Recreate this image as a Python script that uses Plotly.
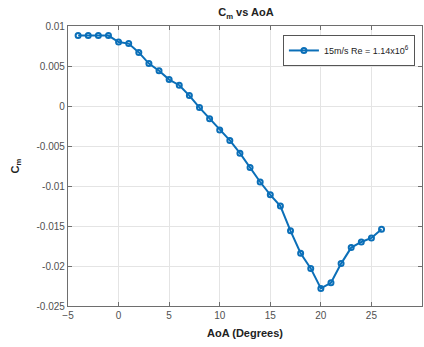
import plotly.graph_objects as go

# Pitching moment coefficient vs angle of attack
aoa_deg = [-4, -3, -2, -1, 0, 1, 2, 3, 4, 5, 6, 7, 8, 9, 10, 11, 12, 13,
           14, 15, 16, 17, 18, 19, 20, 21, 22, 23, 24, 25, 26]
cm = [0.0088, 0.0088, 0.0088, 0.0088, 0.0080, 0.0078, 0.0067, 0.0053,
      0.0044, 0.0033, 0.0026, 0.0013, -0.0002, -0.0016, -0.0030, -0.0043,
      -0.0059, -0.0077, -0.0095, -0.0111, -0.0125, -0.0156, -0.0184,
      -0.0203, -0.0228, -0.0221, -0.0197, -0.0177, -0.0170, -0.0165, -0.0154]
series_name = "15m/s Re = 1.14x10<sup>6</sup>"

x_ticks = [-5, 0, 5, 10, 15, 20, 25, 30]
y_ticks = [0.01, 0.005, 0, -0.005, -0.01, -0.015, -0.02, -0.025]
y_tick_text = ["0.01", "0.005", "0", "-0.005", "-0.01", "-0.015", "-0.02", "-0.025"]

blue = "#0b6fb8"
axis_col = "#6e6e6e"
font_fam = "Liberation Sans, Arial, sans-serif"

fig = go.Figure()
fig.add_trace(go.Scatter(
    x=aoa_deg, y=cm, mode="lines+markers", name=series_name,
    line=dict(color=blue, width=2),
    marker=dict(symbol="circle-open", size=5, color=blue, line=dict(width=2)),
))

axis_common = dict(
    showline=True, linecolor=axis_col, linewidth=1.3, mirror="ticks",
    ticks="inside", ticklen=4, tickcolor=axis_col,
    showgrid=True, gridcolor="#e4e4e4", gridwidth=1, zeroline=False,
    tickfont=dict(family=font_fam, size=10, color="#505050"),
)

fig.update_xaxes(
    range=[-5, 30], tickvals=x_ticks,
    title=dict(text="<b>AoA (Degrees)</b>", standoff=9,
               font=dict(family=font_fam, size=11, color="#222")),
    **axis_common,
)
fig.update_yaxes(
    range=[-0.025, 0.01], tickvals=y_ticks, ticktext=y_tick_text,
    title=dict(text="<b>C<sub>m</sub></b>", standoff=14,
               font=dict(family=font_fam, size=11, color="#222")),
    **axis_common,
)

fig.update_layout(
    width=424, height=347,
    margin=dict(l=68, r=2, t=26, b=41),
    paper_bgcolor="white", plot_bgcolor="white",
    title=dict(text="<b>C<sub>m</sub> vs AoA</b>", x=0.58, xanchor="center",
               y=0.975, yanchor="top",
               font=dict(family=font_fam, size=11, color="#222")),
    showlegend=True,
    legend=dict(x=0.98, y=0.968, xanchor="right", yanchor="top",
                bgcolor="white", bordercolor="#555", borderwidth=1,
                font=dict(family=font_fam, size=9, color="#222"),
                itemwidth=30, tracegroupgap=0),
)

fig.write_html("out.html")
